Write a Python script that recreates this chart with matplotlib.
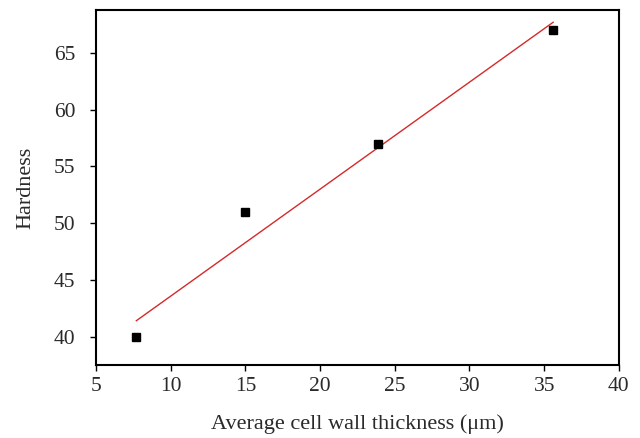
import matplotlib
matplotlib.use("Agg")
import matplotlib.pyplot as plt

# Data
thickness = [7.7, 15.0, 23.85, 35.6]
hardness = [40.0, 51.0, 57.0, 67.0]
fit_x = [7.7, 35.6]
fit_y = [41.4, 67.7]
xticks = [5, 10, 15, 20, 25, 30, 35, 40]
yticks = [40, 45, 50, 55, 60, 65]

plt.rcParams['font.family'] = ['Liberation Serif', 'DejaVu Serif']

fig = plt.figure(figsize=(6.4, 4.38), dpi=100)
ax = fig.add_axes([0.15, 0.1667, 0.817, 0.811])

ax.plot(fit_x, fit_y, color='#d42a2a', linewidth=1.0, zorder=2)
ax.plot(thickness, hardness, linestyle='none', marker='s', markersize=6.3,
        color='black', zorder=3)

ax.set_xlim(5, 40)
ax.set_ylim(37.5, 68.8)
ax.set_xticks(xticks)
ax.set_yticks(yticks)
ax.tick_params(axis='both', direction='out', length=4, width=1.0,
               labelsize=15.5, colors='black', labelcolor='#2a2a2a')
ax.tick_params(axis='x', pad=5)
ax.tick_params(axis='y', pad=11)
for s in ax.spines.values():
    s.set_linewidth(1.5)
    s.set_color('black')

ax.set_xlabel('Average cell wall thickness (μm)', fontsize=16, labelpad=13,
              color='#2a2a2a')
ax.set_ylabel('Hardness', fontsize=16, labelpad=13, color='#2a2a2a')

fig.savefig('out.png', dpi=100)
